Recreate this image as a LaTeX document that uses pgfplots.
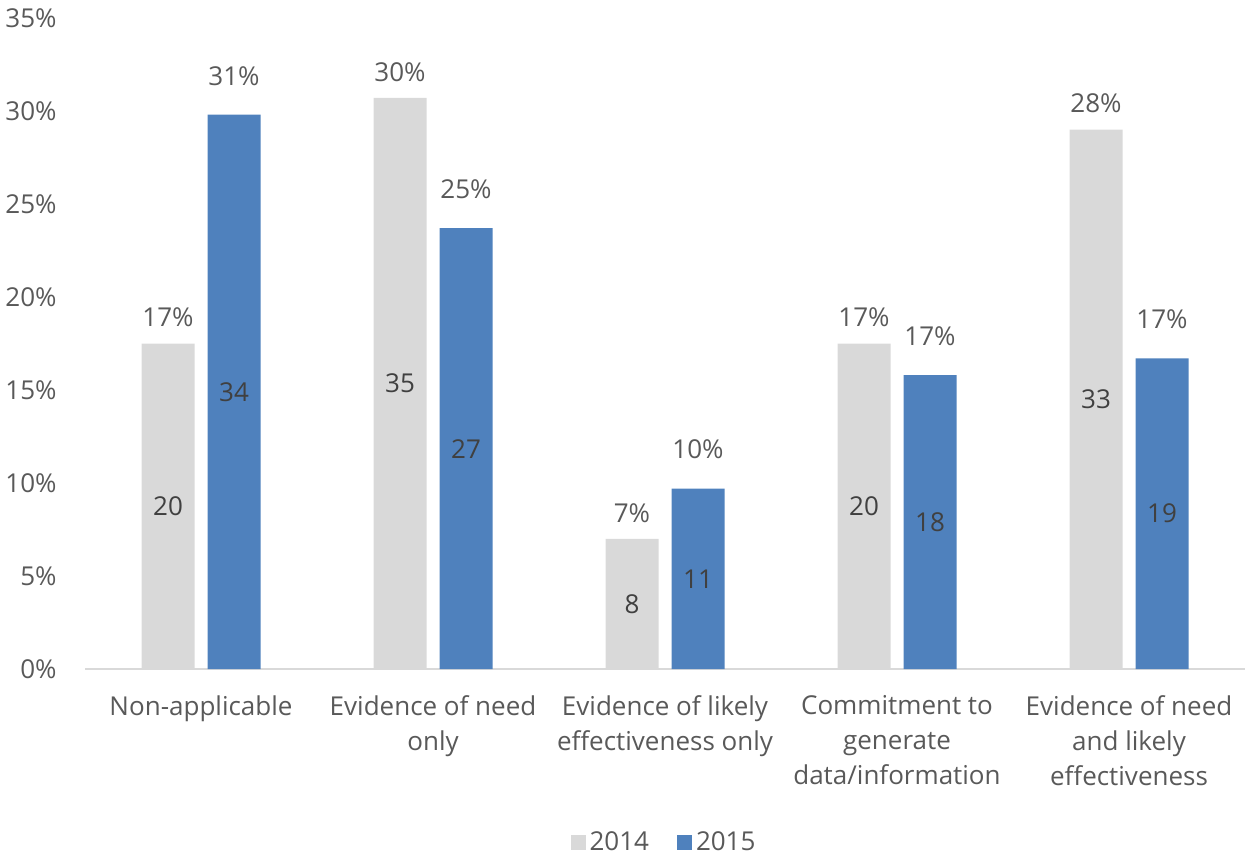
\documentclass[border=0pt]{standalone}
\usepackage{pgfplots}
\pgfplotsset{compat=1.18}
\usepackage{pgfplotstable}
\usepackage{fontspec}
\setmainfont{Open Sans}
\definecolor{cgray}{HTML}{D9D9D9}
\definecolor{cblue}{HTML}{4F81BD}
\definecolor{ctext}{HTML}{595959}
\definecolor{cnum}{HTML}{404040}
\pgfplotstableread{
x y n p
0 17.5 20 17
1 30.7 35 30
2 7.0 8 7
3 17.5 20 17
4 29.0 33 28
}\dataA
\pgfplotstableread{
x y n p
0 29.8 34 31
1 23.7 27 25
2 9.7 11 10
3 15.8 18 17
4 16.7 19 17
}\dataB
\begin{document}
\begin{tikzpicture}
\begin{axis}[
  /pgf/number format/assume math mode=true,
  scale only axis, width=580pt, height=325.5pt,
  xmin=-0.5, xmax=4.5, ymin=0, ymax=35,
  axis x line=bottom, axis y line=left,
  x axis line style={draw=cgray, line width=1pt, -},
  y axis line style={draw=none},
  major tick length=0pt,
  ytick={0,5,...,35},
  yticklabel={\pgfmathprintnumber{\tick}\%},
  yticklabel style={anchor=east, inner sep=0pt, xshift=-14pt, font=\fontsize{13}{15}\selectfont, text=ctext},
  xtick={0,1,2,3,4},
  xticklabels={Non-applicable, {Evidence of need\\only}, {Evidence of likely\\effectiveness only}, {Commitment to\\generate\\data/information}, {Evidence of need\\and likely\\effectiveness}},
  xticklabel style={anchor=north, inner sep=0pt, yshift=-13pt, align=center, font=\fontsize{13}{17.5}\selectfont, text=ctext},
  ybar, bar width=26.5pt,
  clip=false,
  legend style={at={(0.5,-0.267)}, anchor=center, draw=none, legend columns=2, font=\fontsize{13}{15}\selectfont, text=ctext, /tikz/every even column/.append style={column sep=12pt}},
  legend image code/.code={\fill[#1] (0pt,-3.75pt) rectangle (7.5pt,3.75pt);},
]
\addplot[fill=cgray, draw=none, bar shift=-16.5pt,
  nodes near coords={\pgfmathprintnumber{\pgfplotspointmeta}\%},
  point meta=explicit,
  every node near coord/.append style={anchor=south, inner sep=0pt, yshift=8pt, font=\fontsize{13}{15}\selectfont, text=ctext}]
  table[x=x, y=y, meta=p] {\dataA};
\addlegendentry{2014}
\addplot[fill=cblue, draw=none, bar shift=16.5pt,
  nodes near coords={\pgfmathprintnumber{\pgfplotspointmeta}\%},
  point meta=explicit,
  every node near coord/.append style={anchor=south, inner sep=0pt, yshift=14.5pt, font=\fontsize{13}{15}\selectfont, text=ctext}]
  table[x=x, y=y, meta=p] {\dataB};
\addlegendentry{2015}
\addplot[forget plot, fill=none, draw=none, bar shift=-16.5pt,
  nodes near coords, point meta=explicit,
  every node near coord/.append style={anchor=center, inner sep=0pt, font=\fontsize{13}{15}\selectfont, text=cnum}]
  table[x=x, y expr=\thisrow{y}/2, meta=n] {\dataA};
\addplot[forget plot, fill=none, draw=none, bar shift=16.5pt,
  nodes near coords, point meta=explicit,
  every node near coord/.append style={anchor=center, inner sep=0pt, font=\fontsize{13}{15}\selectfont, text=cnum}]
  table[x=x, y expr=\thisrow{y}/2, meta=n] {\dataB};
\end{axis}
\pgfresetboundingbox
\path (-42.5pt,-93.5pt) rectangle (580pt,334.5pt);
\end{tikzpicture}
\end{document}
